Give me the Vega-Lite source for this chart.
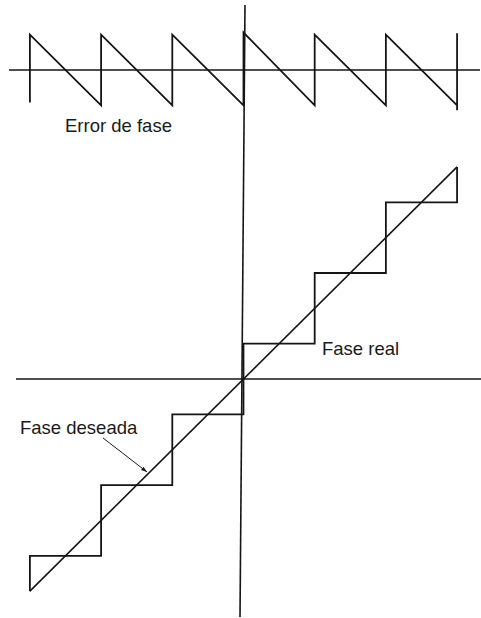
{
  "$schema": "https://vega.github.io/schema/vega-lite/v6.json",
  "width": 481,
  "height": 618,
  "autosize": "none",
  "padding": 0,
  "background": "white",
  "config": {"view": {"stroke": null}},
  "datasets": {
    "sawtooth": [
      {"x": -3, "e": -0.46, "i": 0}, {"x": -3, "e": 0.5, "i": 1},
      {"x": -2, "e": -0.5, "i": 2}, {"x": -2, "e": 0.5, "i": 3},
      {"x": -1, "e": -0.5, "i": 4}, {"x": -1, "e": 0.5, "i": 5},
      {"x": 0, "e": -0.5, "i": 6}, {"x": 0, "e": 0.53, "i": 7},
      {"x": 1, "e": -0.5, "i": 8}, {"x": 1, "e": 0.5, "i": 9},
      {"x": 2, "e": -0.5, "i": 10}, {"x": 2, "e": 0.5, "i": 11},
      {"x": 3, "e": -0.5, "i": 12}, {"x": 3, "e": -0.57, "i": 13}, {"x": 3, "e": 0.52, "i": 14}
    ],
    "errAxis": [{"x": -3.294, "x2": 3.322, "e": 0}],
    "errLabel": [{"x": -2.507, "e": -0.877, "label": "Error de fase"}],
    "staircase": [
      {"x": -3, "y": -3, "i": 0}, {"x": -3, "y": -2.5, "i": 1},
      {"x": -2, "y": -2.5, "i": 2}, {"x": -2, "y": -1.5, "i": 3},
      {"x": -1, "y": -1.5, "i": 4}, {"x": -1, "y": -0.5, "i": 5},
      {"x": 0, "y": -0.5, "i": 6}, {"x": 0, "y": 0.5, "i": 7},
      {"x": 1, "y": 0.5, "i": 8}, {"x": 1, "y": 1.5, "i": 9},
      {"x": 2, "y": 1.5, "i": 10}, {"x": 2, "y": 2.5, "i": 11},
      {"x": 3, "y": 2.5, "i": 12}, {"x": 3, "y": 3, "i": 13}
    ],
    "desired": [{"x": -3, "y": -3, "i": 0}, {"x": 3, "y": 3, "i": 1}],
    "axes": [
      {"x": -3.195, "x2": 3.336, "y": 0, "y2": 0},
      {"x": 0.021, "x2": -0.049, "y": 5.29, "y2": -3.366}
    ],
    "labels": [
      {"x": 1.103, "y": 0.339, "label": "Fase real"},
      {"x": -3.139, "y": -0.778, "label": "Fase deseada"}
    ],
    "arrow": [{"x": -1.973, "y": -0.834, "x2": -1.355, "y2": -1.315}]
  },
  "layer": [
    {
      "layer": [
        {
          "data": {"name": "sawtooth"},
          "mark": {"type": "line", "color": "#151515", "strokeWidth": 1.8, "strokeJoin": "miter"},
          "encoding": {
            "x": {"field": "x", "type": "quantitative", "scale": {"domain": [-3.42, 3.336], "nice": false, "zero": false}, "axis": null},
            "y": {"field": "e", "type": "quantitative", "scale": {"domain": [-7.751, 0.99], "nice": false, "zero": false}, "axis": null},
            "order": {"field": "i"}
          }
        },
        {
          "data": {"name": "errAxis"},
          "mark": {"type": "rule", "color": "#151515", "strokeWidth": 1.6},
          "encoding": {
            "x": {"field": "x", "type": "quantitative"},
            "x2": {"field": "x2"},
            "y": {"field": "e", "type": "quantitative"}
          }
        },
        {
          "data": {"name": "errLabel"},
          "mark": {"type": "text", "align": "left", "baseline": "alphabetic", "font": "Liberation Sans", "fontSize": 18.5, "color": "#1a1a1a"},
          "encoding": {
            "x": {"field": "x", "type": "quantitative"},
            "y": {"field": "e", "type": "quantitative"},
            "text": {"field": "label"}
          }
        }
      ]
    },
    {
      "layer": [
        {
          "data": {"name": "axes"},
          "mark": {"type": "rule", "color": "#151515", "strokeWidth": 1.6},
          "encoding": {
            "x": {"field": "x", "type": "quantitative", "scale": {"domain": [-3.42, 3.336], "nice": false, "zero": false}, "axis": null},
            "x2": {"field": "x2"},
            "y": {"field": "y", "type": "quantitative", "scale": {"domain": [-3.38, 5.361], "nice": false, "zero": false}, "axis": null},
            "y2": {"field": "y2"}
          }
        },
        {
          "data": {"name": "staircase"},
          "mark": {"type": "line", "color": "#151515", "strokeWidth": 1.8, "strokeJoin": "miter"},
          "encoding": {
            "x": {"field": "x", "type": "quantitative"},
            "y": {"field": "y", "type": "quantitative"},
            "order": {"field": "i"}
          }
        },
        {
          "data": {"name": "desired"},
          "mark": {"type": "line", "color": "#151515", "strokeWidth": 1.6},
          "encoding": {
            "x": {"field": "x", "type": "quantitative"},
            "y": {"field": "y", "type": "quantitative"},
            "order": {"field": "i"}
          }
        },
        {
          "data": {"name": "labels"},
          "mark": {"type": "text", "align": "left", "baseline": "alphabetic", "font": "Liberation Sans", "fontSize": 18.5, "color": "#1a1a1a"},
          "encoding": {
            "x": {"field": "x", "type": "quantitative"},
            "y": {"field": "y", "type": "quantitative"},
            "text": {"field": "label"}
          }
        },
        {
          "data": {"name": "arrow"},
          "mark": {"type": "rule", "color": "#1a1a1a", "strokeWidth": 1},
          "encoding": {
            "x": {"field": "x", "type": "quantitative"},
            "y": {"field": "y", "type": "quantitative"},
            "x2": {"field": "x2"},
            "y2": {"field": "y2"}
          }
        },
        {
          "data": {"name": "arrow"},
          "mark": {"type": "point", "shape": "M0,0L-0.35,1L0.35,1Z", "filled": true, "color": "#1a1a1a", "opacity": 1, "size": 144, "angle": 127.7},
          "encoding": {
            "x": {"field": "x2", "type": "quantitative"},
            "y": {"field": "y2", "type": "quantitative"}
          }
        }
      ]
    }
  ],
  "resolve": {"scale": {"y": "independent"}}
}
